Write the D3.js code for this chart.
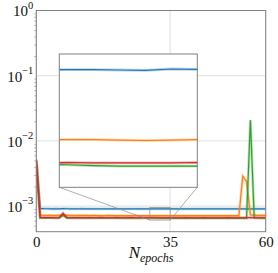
<!DOCTYPE html>
<html>
<head>
<meta charset="utf-8">
<script src="https://cdn.jsdelivr.net/npm/d3@7"></script>
<style>
  body { margin: 0; background: #fff; }
  text { font-family: "Liberation Serif", serif; fill: #111; }
</style>
</head>
<body>
<div id="chart"></div>
<script>
// epochs 0..60
const epochs = d3.range(0, 61);

// loss values, in units of 1e-4
const blueVals = [50, 9.20, 9.12, 9.10, 9.08, 9.10, 9.09, 9.11, 9.10, 9.08,
  9.07, 9.09, 9.10, 9.08, 9.07, 9.08, 9.09, 9.07, 9.06, 9.08,
  9.07, 9.06, 9.07, 9.08, 9.06, 9.05, 9.07, 9.06, 9.05, 9.06,
  9.06, 9.06, 9.05, 9.04, 9.08, 9.07, 9.05, 9.06, 9.05, 9.04,
  9.05, 9.06, 9.05, 9.04, 9.05, 9.04, 9.05, 9.04, 9.03, 9.04,
  9.05, 9.04, 9.03, 9.04, 9.05, 9.06, 9.05, 9.04, 9.04, 9.03, 9.04];
const orangeVals = [50, 7.30, 7.22, 7.20, 7.18, 7.20, 7.19, 7.25, 7.20, 7.18,
  7.17, 7.18, 7.19, 7.18, 7.17, 7.18, 7.17, 7.16, 7.17, 7.18,
  7.17, 7.16, 7.17, 7.16, 7.15, 7.16, 7.17, 7.16, 7.15, 7.16,
  7.16, 7.16, 7.15, 7.14, 7.15, 7.16, 7.15, 7.16, 7.15, 7.14,
  7.15, 7.16, 7.15, 7.14, 7.15, 7.14, 7.15, 7.14, 7.15, 7.14,
  7.15, 7.14, 7.15, 7.15, 28.8, 23.6, 7.30, 7.25, 7.22, 7.20, 7.20];
const greenVals = [50, 6.62, 6.60, 6.60, 6.59, 6.60, 6.60, 7.20, 6.60, 6.59,
  6.59, 6.58, 6.59, 6.58, 6.58, 6.59, 6.58, 6.57, 6.58, 6.57,
  6.57, 6.58, 6.57, 6.56, 6.57, 6.56, 6.57, 6.56, 6.58, 6.59,
  6.58, 6.56, 6.55, 6.55, 6.55, 6.55, 6.55, 6.56, 6.55, 6.55,
  6.55, 6.54, 6.55, 6.55, 6.54, 6.55, 6.55, 6.54, 6.55, 6.55,
  6.54, 6.55, 6.55, 6.54, 6.55, 6.55, 208, 6.60, 6.57, 6.56, 6.55];
const redVals = [52, 6.66, 6.64, 6.63, 6.63, 6.62, 6.63, 7.80, 6.63, 6.62,
  6.62, 6.63, 6.62, 6.62, 6.63, 6.62, 6.62, 6.63, 6.62, 6.62,
  6.62, 6.63, 6.62, 6.62, 6.62, 6.63, 6.62, 6.62, 6.63, 6.62,
  6.63, 6.62, 6.62, 6.62, 6.62, 6.63, 6.62, 6.62, 6.62, 6.63,
  6.62, 6.62, 6.62, 6.62, 6.63, 6.62, 6.62, 6.62, 6.62, 6.62,
  6.63, 6.62, 6.62, 6.62, 6.62, 6.62, 6.63, 6.62, 6.62, 6.62, 6.62];

const series = [
  {color: "#1f77b4", vals: blueVals},
  {color: "#ff7f0e", vals: orangeVals},
  {color: "#2ca02c", vals: greenVals},
  {color: "#d62728", vals: redVals}
];

const xTicks = [0, 35, 60];
const yTicks = [1, 0.1, 0.01, 0.001];
const insetX = [29.7, 35];
const insetY = [6.1e-4, 9.55e-4];

const width = 278;
const height = 273;
const marginTop = 10.5;
const marginRight = 12.3;
const marginBottom = 41.3;
const marginLeft = 36.3;

const x = d3.scaleLinear()
    .domain([0, 60])
    .range([marginLeft, width - marginRight]);

const y = d3.scaleLog()
    .domain([Math.pow(10, -3.393), 1])
    .range([height - marginBottom, marginTop]);

const svg = d3.select("#chart").append("svg")
    .attr("width", width)
    .attr("height", height);

svg.append("defs").append("clipPath").attr("id", "clipMain")
  .append("rect")
    .attr("x", marginLeft).attr("y", marginTop)
    .attr("width", width - marginRight - marginLeft)
    .attr("height", height - marginBottom - marginTop);

// grid
const grid = svg.append("g").attr("stroke", "#e0e0e0").attr("stroke-width", 1);
grid.selectAll(".gx").data(xTicks).join("line")
    .attr("x1", d => x(d)).attr("x2", d => x(d))
    .attr("y1", marginTop).attr("y2", height - marginBottom);
grid.selectAll(".gy").data(yTicks).join("line")
    .attr("x1", marginLeft).attr("x2", width - marginRight)
    .attr("y1", d => y(d)).attr("y2", d => y(d));

function drawLines(g, xs, ys) {
  const line = d3.line()
      .x((d, i) => xs(epochs[i]))
      .y(d => ys(d * 1e-4));
  series.forEach(s => {
    g.append("path")
        .attr("d", line(s.vals))
        .attr("fill", "none")
        .attr("stroke", s.color)
        .attr("stroke-opacity", 0.3)
        .attr("stroke-width", 2.8);
    g.append("path")
        .attr("d", line(s.vals))
        .attr("fill", "none")
        .attr("stroke", s.color)
        .attr("stroke-width", 1.2);
  });
}

drawLines(svg.append("g").attr("clip-path", "url(#clipMain)"), x, y);

// axes
const gray = "#808080";
svg.append("g")
    .attr("transform", `translate(0,${height - marginBottom})`)
    .call(d3.axisBottom(x).tickValues(xTicks).tickSize(0).tickPadding(5))
    .call(g => g.select(".domain").remove())
    .selectAll("text")
    .attr("font-size", 15)
    .attr("font-family", "Liberation Serif, serif")
    .attr("fill", "#111");

const minor = [];
[-4, -3, -2, -1].forEach(e => {
  for (let k = 2; k <= 9; k++) {
    const v = k * Math.pow(10, e);
    if (v >= y.domain()[0] && v <= 1) minor.push(v);
  }
});
svg.append("g")
    .attr("transform", `translate(${marginLeft},0)`)
    .call(d3.axisLeft(y).tickValues(minor).tickSize(2).tickFormat(""))
    .call(g => g.select(".domain").remove())
    .call(g => g.selectAll("line").attr("stroke", gray).attr("stroke-width", 0.6));

const yAxis = svg.append("g")
    .attr("transform", `translate(${marginLeft},0)`)
    .call(d3.axisLeft(y).tickValues(yTicks).tickSize(0).tickPadding(3).tickFormat(""))
    .call(g => g.select(".domain").remove());
yAxis.selectAll(".tick text")
    .attr("font-size", 15)
    .attr("font-family", "Liberation Serif, serif")
    .attr("fill", "#111")
    .attr("dy", "0.36em")
    .each(function(d) {
      const t = d3.select(this);
      t.append("tspan").text("10");
      t.append("tspan")
          .attr("font-size", 10.5)
          .attr("dy", "-0.75em")
          .text(String(Math.round(Math.log10(d))).replace("-", "\u2212"));
    });

// frame
svg.append("rect")
    .attr("x", marginLeft).attr("y", marginTop)
    .attr("width", width - marginRight - marginLeft)
    .attr("height", height - marginBottom - marginTop)
    .attr("fill", "none")
    .attr("stroke", gray)
    .attr("stroke-width", 1);

// inset
const ix0 = 59.3, ix1 = 197.3, iy0 = 54, iy1 = 187.3;
const xi = d3.scaleLinear().domain(insetX).range([ix0, ix1]);
const yi = d3.scaleLog().domain(insetY).range([iy1, iy0]);

// zoom rectangle and connectors
const rx0 = x(insetX[0]), rx1 = x(insetX[1]);
const ry0 = y(insetY[1]), ry1 = y(insetY[0]);
const conn = svg.append("g").attr("stroke", "#8c8c8c").attr("stroke-width", 0.7).attr("fill", "none");
conn.append("rect")
    .attr("x", rx0).attr("y", ry0)
    .attr("width", rx1 - rx0).attr("height", ry1 - ry0);
conn.append("line").attr("x1", ix0).attr("y1", iy1).attr("x2", rx0).attr("y2", ry1);
conn.append("line").attr("x1", ix1).attr("y1", iy1).attr("x2", rx1).attr("y2", ry1);

svg.append("rect")
    .attr("x", ix0).attr("y", iy0)
    .attr("width", ix1 - ix0).attr("height", iy1 - iy0)
    .attr("fill", "#fff");

svg.select("defs").append("clipPath").attr("id", "clipInset")
  .append("rect")
    .attr("x", ix0).attr("y", iy0)
    .attr("width", ix1 - ix0).attr("height", iy1 - iy0);

drawLines(svg.append("g").attr("clip-path", "url(#clipInset)"), xi, yi);

svg.append("rect")
    .attr("x", ix0).attr("y", iy0)
    .attr("width", ix1 - ix0).attr("height", iy1 - iy0)
    .attr("fill", "none")
    .attr("stroke", gray)
    .attr("stroke-width", 1);

// x label
const xl = svg.append("text")
    .attr("x", (marginLeft + width - marginRight) / 2)
    .attr("y", 258)
    .attr("text-anchor", "middle");
xl.append("tspan")
    .attr("font-style", "italic")
    .attr("font-size", 17)
    .text("N");
xl.append("tspan")
    .attr("font-style", "italic")
    .attr("font-size", 12)
    .attr("dy", 4)
    .text("epochs");
</script>
</body>
</html>
